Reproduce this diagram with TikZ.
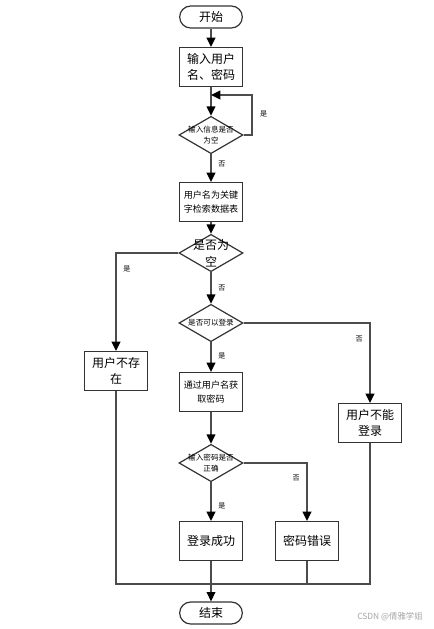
\documentclass[tikz,border=0pt]{standalone}
\usepackage{fontspec}
\newfontfamily\cjk{Noto Sans CJK SC}
\usetikzlibrary{arrows.meta,shapes.geometric}

\begin{document}
\begin{tikzpicture}[x=0.75pt,y=-0.75pt,
  every node/.style={font=\cjk},
  flow/.style={draw=black!70,line width=1.1pt,-{Triangle[length=7pt,width=6.5pt,color=black]}},
  plain/.style={draw=black!70,line width=1.1pt},
  proc/.style={draw=black!80,line width=0.9pt,minimum width=47pt,minimum height=29pt,
               inner sep=1pt,align=center},
  term/.style={proc,minimum height=16.5pt,rounded corners=8.25pt},
  dec/.style={draw=black!80,line width=0.9pt,diamond,aspect=1.73,inner sep=0pt,
              minimum width=48pt,minimum height=28pt},
  big/.style={font=\cjk\fontsize{9}{12.5}\selectfont},
  mid/.style={font=\cjk\fontsize{6.8}{10.5}\selectfont},
  tiny/.style={font=\cjk\fontsize{5.7}{8}\selectfont,align=center,inner sep=0pt},
  lbl/.style={font=\cjk\fontsize{5.3}{6}\selectfont,inner sep=1pt}]
  %% page
  \fill[white](0,0) rectangle (434,629);
  \useasboundingbox (0,0) rectangle (434,629);
  %% Nodes, top to bottom
  \node[term,big] (start) at (211,17) {开始};
  \node[proc,big] (input) at (211,67) {输入用户\\名、密码};
  \node[dec,label={[tiny]center:输入信息是否\\为空}] (chk1) at (211,135) {};
  \node[proc,mid] (query) at (211,202) {用户名为关键\\字检索数据表};
  \node[dec,label={[big,align=center,inner sep=0pt]center:是否为\\空}] (chk2) at (211,253) {};
  \node[dec,label={[tiny]center:是否可以登录}] (chk3) at (211,323) {};
  \node[proc,big] (nouser) at (116,371) {用户不存\\在};
  \node[proc,mid] (getpw) at (211,392) {通过用户名获\\取密码};
  \node[proc,big] (denied) at (370,423) {用户不能\\登录};
  \node[dec,label={[tiny]center:输入密码是否\\正确}] (chk4) at (211,463) {};
  \node[proc,big] (ok) at (211,541) {登录成功};
  \node[proc,big] (wrong) at (307,541) {密码错误};
  \node[term,big] (stop) at (211,613) {结束};
  \node[font=\cjk\fontsize{6.3}{7}\selectfont,text=black!35] (mark) at (390,617) {CSDN @倩雅学姐};
  %% Helper points
  \coordinate (loop) at (211,95);
  \coordinate (loopr) at (252,95);
  \coordinate (jl) at (116,584);
  \coordinate (jr) at (370,584);
  %% Connectors
  \draw[flow] (start) -- (input);
  \draw[flow] (input) -- (chk1);
  \draw[flow] (chk1.east) -| (loopr) node[lbl,pos=0.76,right=4.5pt]{是} -- (loop);
  \draw[flow] (chk1) -- node[lbl,pos=0.35,right=4pt]{否} (query);
  \draw[flow] (query) -- (chk2);
  \draw[flow] (chk2.west) -| node[lbl,pos=0.58,right=4pt]{是} (nouser);
  \draw[flow] (chk2) -- node[lbl,pos=0.5,right=4pt]{否} (chk3);
  \draw[flow] (chk3.east) -| node[lbl,pos=0.6,left=4pt]{否} (denied);
  \draw[flow] (chk3) -- node[lbl,pos=0.45,right=4pt]{是} (getpw);
  \draw[flow] (getpw) -- (chk4);
  \draw[flow] (chk4) -- node[lbl,pos=0.6,right=4pt]{是} (ok);
  \draw[flow] (chk4.east) -| node[lbl,pos=0.63,left=4pt]{否} (wrong);
  \draw[plain] (nouser) -- (jl) -- (jr) -- (denied);
  \draw[plain] (wrong) -- (wrong |- jl);
  \draw[flow] (ok) -- (stop);
\end{tikzpicture}
\end{document}
